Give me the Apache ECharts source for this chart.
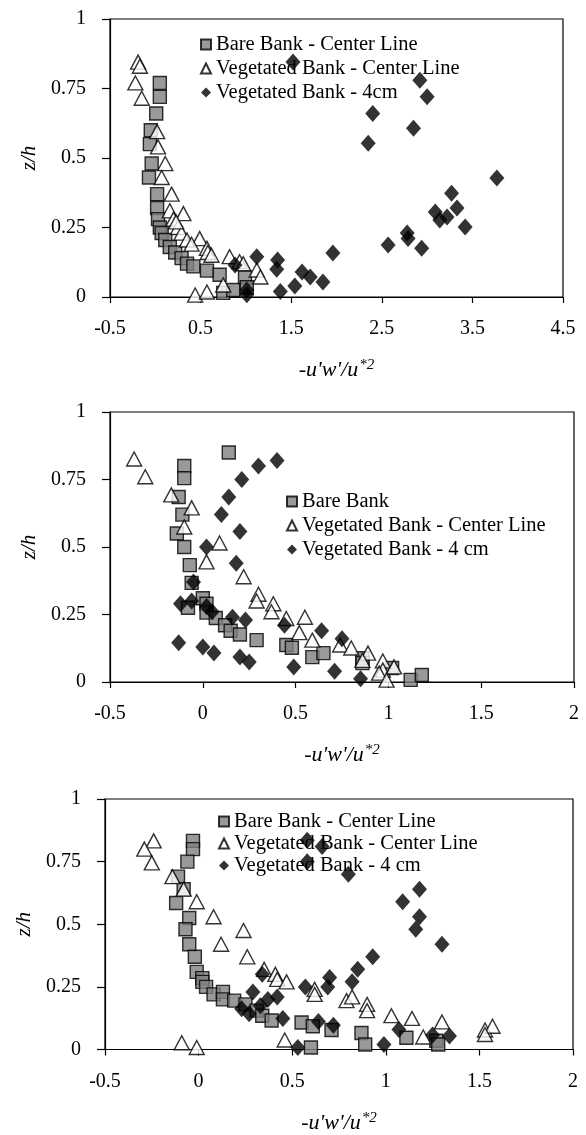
<!DOCTYPE html>
<html>
<head>
<meta charset="utf-8">
<script src="https://cdn.jsdelivr.net/npm/echarts@6/dist/echarts.min.js"></script>
<style>html,body{margin:0;padding:0;background:#fff}#c{width:586px;height:1135px}</style>
</head>
<body>
<div id="c"></div>
<script>
// ---------- Data ----------
const seriesNames1 = ['Bare Bank - Center Line', 'Vegetated Bank - Center Line', 'Vegetated Bank - 4cm'];
const seriesNames2 = ['Bare Bank', 'Vegetated Bank - Center Line', 'Vegetated Bank - 4 cm'];
const seriesNames3 = ['Bare Bank - Center Line', 'Vegetated Bank - Center Line', 'Vegetated Bank - 4 cm'];

const xTicks1 = [-0.5, 0.5, 1.5, 2.5, 3.5, 4.5];
const xTicks23 = [-0.5, 0, 0.5, 1, 1.5, 2];
const yTicks = [0, 0.25, 0.5, 0.75, 1];

// Panel 1
const p1BareX = [0.05,0.05,0.01,-0.05,-0.06,-0.04,-0.07,0.02,0.02,0.03,0.05,0.07,0.11,0.16,0.22,0.29,0.35,0.42,0.57,0.71,0.99,0.75,0.86,1.01];
const p1BareZ = [0.77,0.72,0.66,0.60,0.55,0.48,0.43,0.37,0.32,0.28,0.25,0.23,0.205,0.18,0.16,0.14,0.12,0.11,0.095,0.08,0.07,0.015,0.025,0.035];
const p1VegCX = [-0.19,-0.17,-0.22,-0.15,0.02,0.03,0.11,0.07,0.18,0.16,0.31,0.20,0.25,0.29,0.49,0.35,0.57,0.58,0.82,0.93,0.97,1.12,1.16,0.75,0.44,0.57,0.23,0.40,0.62];
const p1VegCZ = [0.845,0.83,0.77,0.715,0.595,0.54,0.48,0.43,0.37,0.31,0.30,0.28,0.25,0.23,0.21,0.205,0.175,0.16,0.145,0.127,0.12,0.097,0.072,0.043,0.007,0.018,0.27,0.19,0.15];
const p1Veg4X = [1.52,1.12,1.35,1.34,0.88,1.01,1.01,1.38,1.54,1.62,1.71,1.85,1.96,2.57,2.78,2.79,2.94,3.09,3.14,3.22,3.33,3.27,3.42,3.77,2.35,2.40,2.85,2.92,3.00];
const p1Veg4Z = [0.845,0.145,0.133,0.10,0.115,0.025,0.008,0.02,0.04,0.09,0.072,0.054,0.158,0.187,0.23,0.21,0.175,0.306,0.277,0.288,0.32,0.373,0.252,0.428,0.553,0.66,0.607,0.78,0.72];

// Panel 2
const p2BareX = [0.14,-0.10,-0.10,-0.13,-0.11,-0.14,-0.10,-0.07,-0.06,0.0,0.02,-0.08,0.02,0.07,0.12,0.15,0.20,0.29,0.45,0.48,0.59,0.65,0.86,0.86,1.02,1.12,1.18];
const p2BareZ = [0.85,0.80,0.755,0.685,0.62,0.55,0.50,0.433,0.367,0.31,0.29,0.275,0.257,0.237,0.21,0.19,0.176,0.155,0.137,0.127,0.092,0.107,0.088,0.07,0.052,0.008,0.026];
const p2VegCX = [-0.37,-0.31,-0.17,-0.06,-0.10,0.09,0.02,0.22,0.30,0.29,0.38,0.37,0.45,0.55,0.52,0.59,0.74,0.80,0.89,0.86,0.97,0.97,1.03,0.95,0.99];
const p2VegCZ = [0.826,0.76,0.693,0.645,0.574,0.515,0.445,0.39,0.325,0.30,0.29,0.26,0.235,0.24,0.183,0.155,0.137,0.126,0.107,0.08,0.078,0.044,0.056,0.033,0.007];
const p2Veg4X = [0.40,0.30,0.21,0.14,0.10,0.20,0.02,0.18,-0.05,-0.12,-0.06,0.02,0.05,0.16,0.23,0.44,0.64,0.75,-0.13,0.0,0.06,0.20,0.25,0.49,0.71,0.85];
const p2Veg4Z = [0.82,0.80,0.75,0.685,0.62,0.557,0.50,0.44,0.37,0.29,0.30,0.28,0.26,0.24,0.23,0.21,0.19,0.16,0.145,0.13,0.107,0.093,0.074,0.056,0.04,0.012];

// Panel 3
const p3BareX = [-0.03,-0.03,-0.06,-0.11,-0.08,-0.12,-0.05,-0.07,-0.05,-0.02,-0.01,0.02,0.02,0.04,0.08,0.13,0.13,0.19,0.25,0.31,0.34,0.39,0.55,0.61,0.71,0.87,0.89,0.60,1.11,1.27,1.28];
const p3BareZ = [0.833,0.80,0.75,0.69,0.64,0.585,0.525,0.48,0.42,0.37,0.31,0.285,0.27,0.25,0.22,0.23,0.20,0.195,0.18,0.155,0.135,0.116,0.108,0.093,0.078,0.066,0.02,0.008,0.047,0.035,0.02];
const p3VegCX = [-0.24,-0.29,-0.25,-0.14,-0.08,-0.01,0.08,0.24,0.12,0.26,0.35,0.41,0.42,0.47,0.62,0.62,0.79,0.82,0.90,0.90,1.03,1.14,1.30,1.20,1.53,1.57,1.53,-0.09,-0.01,0.46];
const p3VegCZ = [0.833,0.80,0.745,0.69,0.64,0.59,0.53,0.475,0.42,0.37,0.32,0.30,0.28,0.27,0.24,0.22,0.195,0.21,0.18,0.155,0.135,0.124,0.11,0.05,0.078,0.093,0.06,0.027,0.008,0.038];
const p3Veg4X = [0.58,0.66,0.58,0.80,1.18,1.09,1.18,1.16,1.30,0.93,0.85,0.82,0.70,0.69,0.57,0.34,0.29,0.37,0.42,0.23,0.27,0.33,0.45,0.64,0.72,1.07,1.25,1.34,0.99,0.53];
const p3Veg4Z = [0.835,0.81,0.75,0.70,0.64,0.59,0.53,0.48,0.42,0.37,0.32,0.27,0.287,0.25,0.25,0.30,0.23,0.20,0.21,0.163,0.143,0.175,0.124,0.112,0.097,0.08,0.058,0.054,0.02,0.008];

// ---------- Chart ----------
const FONT = '"Liberation Serif","Times New Roman",serif';
const zip = (xs, zs) => xs.map((x, i) => [x, zs[i]]);
const fmt = v => String(v);

const grids = [
  { left: 110, top: 19, width: 453, height: 278 },
  { left: 110, top: 412, width: 464, height: 270 },
  { left: 105, top: 799, width: 468, height: 258 }
];

function xAxis(i, ticks) {
  return {
    type: 'value', gridIndex: i, min: ticks[0], max: ticks[ticks.length - 1],
    name: '{a|-u\'w\'/u}{b|*2}', nameLocation: 'middle', nameGap: 61,
    nameTextStyle: {
      rich: {
        a: { fontFamily: FONT, fontStyle: 'italic', fontSize: 22, color: '#000' },
        b: { fontFamily: FONT, fontStyle: 'italic', fontSize: 15, color: '#000', verticalAlign: 'top', padding: [0, 0, 10, 1] }
      }
    },
    axisLine: { show: true, onZero: false, lineStyle: { color: '#000', width: 1.2 } },
    axisTick: { show: true, inside: false, length: 6, customValues: ticks, lineStyle: { color: '#000', width: 1.2 } },
    axisLabel: { customValues: ticks, formatter: fmt, margin: 22, fontFamily: FONT, fontSize: 20, color: '#000' },
    splitLine: { show: false }
  };
}
function yAxis(i, gap) {
  return {
    type: 'value', gridIndex: i, min: 0, max: 1,
    name: 'z/h', nameLocation: 'middle', nameGap: gap, nameRotate: 90,
    nameTextStyle: { fontFamily: FONT, fontStyle: 'italic', fontSize: 21, color: '#000' },
    axisLine: { show: true, onZero: false, lineStyle: { color: '#000', width: 1.2 } },
    axisTick: { show: true, inside: false, length: 8, customValues: yTicks, lineStyle: { color: '#000', width: 1.2 } },
    axisLabel: { customValues: yTicks, formatter: fmt, margin: 24, fontFamily: FONT, fontSize: 20, color: '#000' },
    splitLine: { show: false }
  };
}

const sqStyle = { color: '#808080', borderColor: '#000', borderWidth: 1.4 };
const triStyle = { color: '#fff', borderColor: '#000', borderWidth: 1.4 };
const diaStyle = { color: '#000', borderColor: '#000', borderWidth: 0 };

function panelSeries(i, names, bx, bz, cx, cz, dx, dz) {
  return [
    { type: 'scatter', name: names[0], xAxisIndex: i, yAxisIndex: i, symbol: 'rect', symbolSize: 13, itemStyle: sqStyle, data: zip(bx, bz), z: 2 },
    { type: 'scatter', name: names[1], xAxisIndex: i, yAxisIndex: i, symbol: 'triangle', symbolSize: [15, 14], itemStyle: triStyle, data: zip(cx, cz), z: 3 },
    { type: 'scatter', name: names[2], xAxisIndex: i, yAxisIndex: i, symbol: 'diamond', symbolSize: [15, 17], itemStyle: diaStyle, data: zip(dx, dz), z: 4 }
  ];
}

function legend(names, left, top, gap) {
  return {
    orient: 'vertical', left: left, top: top, itemWidth: 10, itemHeight: 10, itemGap: gap,
    selectedMode: false,
    textStyle: { fontFamily: FONT, fontSize: 20.5, color: '#000', lineHeight: 21 },
    data: [
      { name: names[0], icon: 'rect' },
      { name: names[1], icon: 'triangle' },
      { name: names[2], icon: 'diamond' }
    ]
  };
}

const option = {
  animation: false,
  backgroundColor: '#fff',
  grid: grids.map(g => Object.assign({ show: true, borderColor: '#000', borderWidth: 1.2, backgroundColor: 'transparent' }, g)),
  xAxis: [xAxis(0, xTicks1), xAxis(1, xTicks23), xAxis(2, xTicks23)],
  yAxis: [yAxis(0, 58), yAxis(1, 58), yAxis(2, 54)],
  legend: [
    legend(seriesNames1, 195, 29, 3),
    legend(seriesNames2, 281, 486, 3),
    legend(seriesNames3, 213, 806, 1)
  ],
  series: [
    ...panelSeries(0, seriesNames1, p1BareX, p1BareZ, p1VegCX, p1VegCZ, p1Veg4X, p1Veg4Z),
    ...panelSeries(1, seriesNames2, p2BareX, p2BareZ, p2VegCX, p2VegCZ, p2Veg4X, p2Veg4Z),
    ...panelSeries(2, seriesNames3, p3BareX, p3BareZ, p3VegCX, p3VegCZ, p3Veg4X, p3Veg4Z)
  ]
};

const chart = echarts.init(document.getElementById('c'), null, { renderer: 'canvas' });
chart.setOption(option);
</script>
</body>
</html>
